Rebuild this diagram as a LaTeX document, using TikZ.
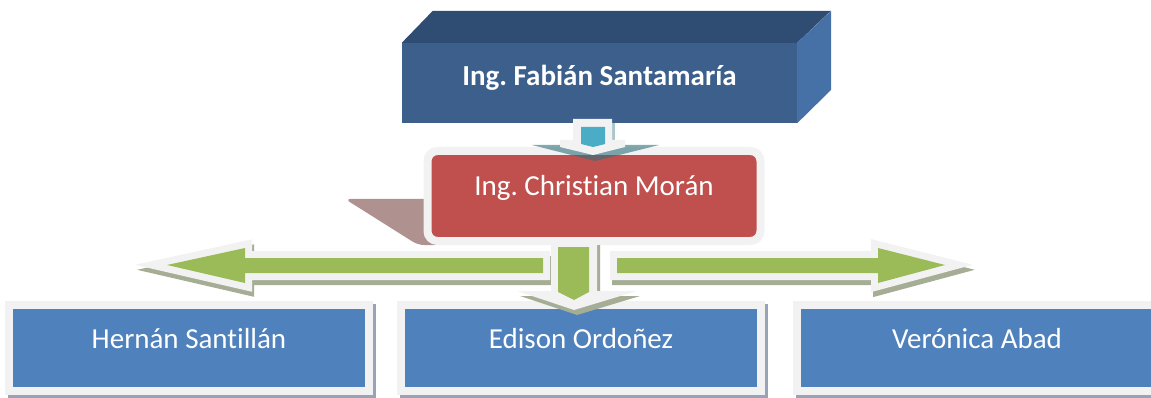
\documentclass[tikz,border=0pt]{standalone}
\usepackage{fontspec}
\setmainfont{Carlito}[Ligatures=NoCommon]
\usepackage{tikz}
\usetikzlibrary{
positioning,
calc
}
\frenchspacing
\definecolor{jefeFrente}{HTML}{3D5F8C}
\definecolor{jefeArriba}{HTML}{2F4D72}
\definecolor{jefeLado}{HTML}{4671A6}
\definecolor{marcoGris}{HTML}{F2F2F2}
\definecolor{rojoCoord}{HTML}{C0504D}
\definecolor{sombraRoja}{HTML}{AF918F}
\definecolor{azulCaja}{HTML}{4F81BD}
\definecolor{sombraAzul}{HTML}{98A3B5}
\definecolor{verdeFlecha}{HTML}{9BBB59}
\definecolor{sombraVerde}{HTML}{A5AD95}
\definecolor{cianFlecha}{HTML}{4BACC6}
\definecolor{sombraCian}{HTML}{2F6F7A}

\begin{document}
\begin{tikzpicture}[x=1pt, y=-1pt,
    every node/.style={font=\fontsize{29}{35}\selectfont, text=white, text height=10pt, text depth=10pt, inner sep=0pt},
    cajaJefe/.style={fill=jefeFrente, minimum width=395pt, minimum height=80pt},
    cajaCoord/.style={fill=rojoCoord, draw=marcoGris, line width=8pt, rounded corners=10pt, minimum width=333pt, minimum height=90pt},
    cajaAzul/.style={fill=azulCaja, draw=marcoGris, line width=8pt, minimum width=360pt, minimum height=86pt},
    flecha/.style={draw=marcoGris, line width=14pt, line join=miter, miter limit=10, postaction={fill=verdeFlecha}},
    sombraFlecha/.style={fill=sombraVerde, draw=sombraVerde, line width=14pt, line join=miter, miter limit=10}
]
    \useasboundingbox (0,0) rectangle (1151,398);
    \clip (0,0) rectangle (1151,398);

    % sombra en perspectiva del coordinador
    \fill[sombraRoja, rounded corners=6pt] (345,199) -- (440,199) -- (440,245) -- (418,245) -- cycle;

    % caja 3D del jefe
    \node[cajaJefe] (jefe) at (599.5,83) {\raisebox{-3pt}{\bfseries Ing. Fabián Santamaría}};
    \fill[jefeArriba] (jefe.north west) -- ++(31,-32) -- ++(398,0) -- (jefe.north east) -- cycle;
    \fill[jefeLado] (jefe.north east) -- ++(34,-32) -- ++(0,79) -- (jefe.south east) -- cycle;

    \node[cajaCoord] (moran) at (594,196) {Ing. Christian Morán};

    % flecha jefe -> coordinador
    \fill[sombraCian, opacity=0.6] (532,145) -- (659,145) -- (595,161) -- cycle;
    \fill[sombraCian, opacity=0.4] (612,122) rectangle (615,141);
    \fill[marcoGris] (573,119) -- (612,119) -- (612,140) -- (625,140) -- (625,147) -- (593,155)
        -- (560,147) -- (560,140) -- (573,140) -- cycle;
    \fill[cianFlecha] (581,127) -- (605,127) -- (605,144) -- (593,147) -- (581,144) -- cycle;

    % personal
    \foreach \nombre/\x/\texto in {
        hernan/189/{Hernán Santillán},
        edison/581/{Edison Ordoñez},
        veronica/977/{Verónica Abad}
    }{
        \fill[sombraAzul] ({\x-181},304) rectangle ({\x+187},398);
        \node[cajaAzul] (\nombre) at (\x,348) {\texto};
    }

    % flechas verdes
    \foreach \dx/\dy/\estilo in {2/5/sombraFlecha, 0/0/flecha}{
        \begin{scope}[shift={(\dx,\dy)}]
            \path[\estilo] (543,258) -- (245,258) -- (245,248) -- (167,265) -- (245,283) -- (245,273) -- (543,273) -- cycle;
            \path[\estilo] (617,258) -- (878,258) -- (878,248) -- (945,265) -- (878,283) -- (878,273) -- (617,273) -- cycle;
        \end{scope}
    }
    \fill[sombraVerde] (554,245) -- (600,245) -- (600,296) -- (640,296) -- (577,315) -- (520,296) -- (554,296) -- cycle;
    \fill[marcoGris] (551,240) -- (597,240) -- (597,291) -- (637,291) -- (574,310) -- (517,291) -- (551,291) -- cycle;
    \fill[verdeFlecha] (558,247) -- (589,247) -- (589,292) -- (574,300) -- (558,292) -- cycle;
\end{tikzpicture}
\end{document}
